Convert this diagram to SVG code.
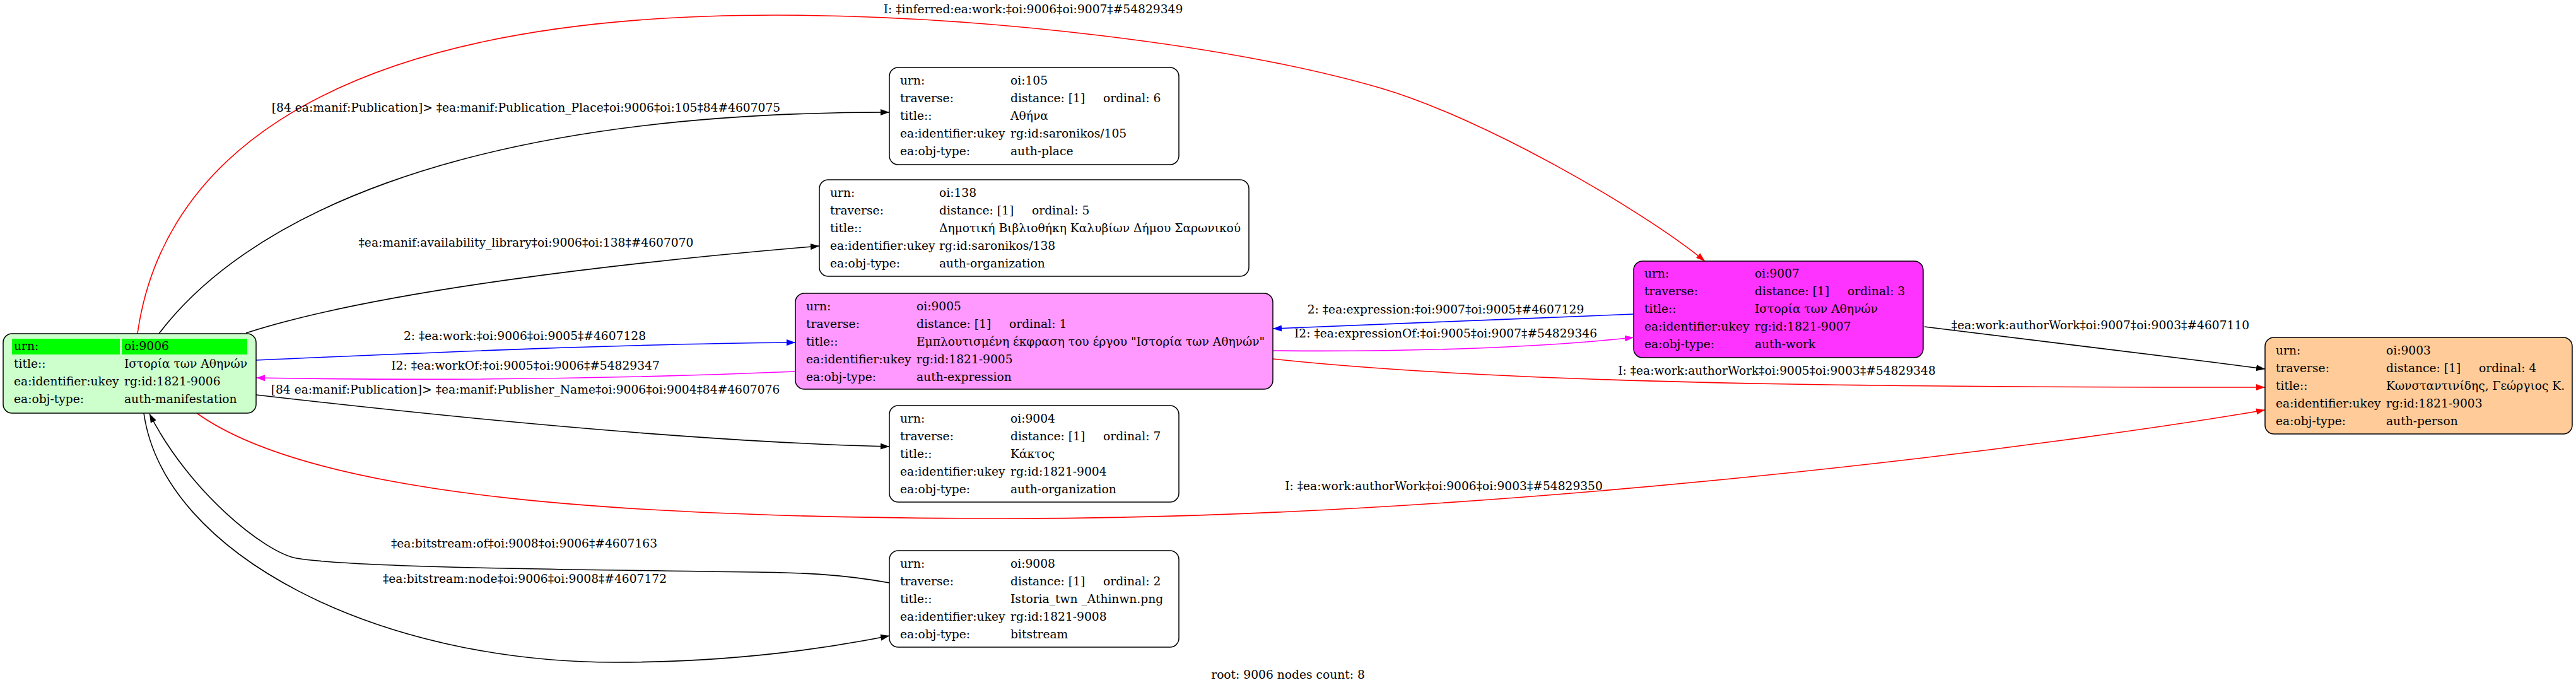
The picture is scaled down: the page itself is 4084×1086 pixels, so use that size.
<svg xmlns="http://www.w3.org/2000/svg" width="4084" height="1086" viewBox="0 0 4084 1086">
<style>
text { font-family: "DejaVu Serif", "Liberation Serif", serif; font-size: 18.67px; fill: #000; }
.lbl { text-anchor: middle; }
.box { stroke: #000; stroke-width: 1.5; }
.e { fill: none; stroke-width: 1.6; }
.k { stroke: #000; marker-end: url(#arrK); }
.r { stroke: #ff0000; marker-end: url(#arrR); }
.b { stroke: #0000ff; marker-end: url(#arrB); }
.m { stroke: #ff00ff; marker-end: url(#arrM); }
</style>
<defs>
<marker id="arrK" markerUnits="userSpaceOnUse" markerWidth="14" markerHeight="10" refX="14" refY="5" orient="auto"><path d="M0,0 L14,5 L0,10 z" fill="#000"/></marker>
<marker id="arrR" markerUnits="userSpaceOnUse" markerWidth="14" markerHeight="10" refX="14" refY="5" orient="auto"><path d="M0,0 L14,5 L0,10 z" fill="#ff0000"/></marker>
<marker id="arrB" markerUnits="userSpaceOnUse" markerWidth="14" markerHeight="10" refX="14" refY="5" orient="auto"><path d="M0,0 L14,5 L0,10 z" fill="#0000ff"/></marker>
<marker id="arrM" markerUnits="userSpaceOnUse" markerWidth="14" markerHeight="10" refX="14" refY="5" orient="auto"><path d="M0,0 L14,5 L0,10 z" fill="#ff00ff"/></marker>
</defs>
<rect width="4084" height="1086" fill="#ffffff"/>

<g id="connectors">
<path class="e r" d="M218,529 C250,300 450,24 1228,24 C1550,24 1950,70 2190,140 C2350,187 2600,330 2703,414"/>
<text class="lbl" x="1638" y="21">I: ‡inferred:ea:work:‡oi:9006‡oi:9007‡#54829349</text>

<path class="e k" d="M252,529 C380,360 700,178 1410,178"/>
<text class="lbl" x="834" y="177">[84 ea:manif:Publication]&gt; ‡ea:manif:Publication_Place‡oi:9006‡oi:105‡84#4607075</text>

<path class="e k" d="M390,528 C600,460 1000,415 1299,390"/>
<text class="lbl" x="834" y="391">‡ea:manif:availability_library‡oi:9006‡oi:138‡#4607070</text>

<path class="e b" d="M406,571 C700,558 1000,545 1261,543"/>
<text class="lbl" x="832" y="539">2: ‡ea:work:‡oi:9006‡oi:9005‡#4607128</text>

<path class="e m" d="M1261,589 C1000,600 700,604 406,599"/>
<text class="lbl" x="833" y="586">I2: ‡ea:workOf:‡oi:9005‡oi:9006‡#54829347</text>

<path class="e k" d="M406,626 C700,660 1100,700 1410,708"/>
<text class="lbl" x="833" y="624">[84 ea:manif:Publication]&gt; ‡ea:manif:Publisher_Name‡oi:9006‡oi:9004‡84#4607076</text>

<path class="e b" d="M2590,498 C2400,505 2200,515 2018,521"/>
<text class="lbl" x="2292" y="497">2: ‡ea:expression:‡oi:9007‡oi:9005‡#4607129</text>

<path class="e m" d="M2018,556 C2250,558 2450,550 2590,535"/>
<text class="lbl" x="2292" y="535">I2: ‡ea:expressionOf:‡oi:9005‡oi:9007‡#54829346</text>

<path class="e k" d="M3051,518 C3200,535 3400,560 3591,585"/>
<text class="lbl" x="3330" y="522">‡ea:work:authorWork‡oi:9007‡oi:9003‡#4607110</text>

<path class="e r" d="M2018,569 C2400,610 3000,614 3591,614"/>
<text class="lbl" x="2817" y="594">I: ‡ea:work:authorWork‡oi:9005‡oi:9003‡#54829348</text>

<path class="e r" d="M312,655 C500,790 1000,822 1600,822 C2400,822 3300,700 3591,650"/>
<text class="lbl" x="2289" y="777">I: ‡ea:work:authorWork‡oi:9006‡oi:9003‡#54829350</text>

<path class="e k" d="M1410,924 C1320,908 1250,908 1200,907 C900,903 560,900 470,885 C420,876 300,780 237,656"/>
<text class="lbl" x="831" y="868">‡ea:bitstream:of‡oi:9008‡oi:9006‡#4607163</text>

<path class="e k" d="M228,655 C260,880 600,1050 975,1050 C1150,1050 1300,1030 1410,1008"/>
<text class="lbl" x="832" y="924">‡ea:bitstream:node‡oi:9006‡oi:9008‡#4607172</text>
</g>

<g id="node-9006">
<rect class="box" x="5" y="529" width="401" height="126" rx="14" fill="#ccffcc"/>
<rect x="19" y="537" width="171" height="25" fill="#00ff00"/>
<rect x="193" y="537" width="199" height="25" fill="#00ff00"/>
<text x="22" y="555">urn:</text><text x="197" y="555">oi:9006</text>
<text x="22" y="583">title::</text><text x="197" y="583">Ιστορία των Αθηνών</text>
<text x="22" y="611">ea:identifier:ukey</text><text x="197" y="611">rg:id:1821-9006</text>
<text x="22" y="639">ea:obj-type:</text><text x="197" y="639">auth-manifestation</text>
</g>

<g id="node-105">
<rect class="box" x="1410" y="107" width="459" height="154" rx="14" fill="#ffffff"/>
<text x="1427" y="134">urn:</text><text x="1602" y="134">oi:105</text>
<text x="1427" y="162">traverse:</text><text x="1602" y="162">distance: [1]</text><text x="1749" y="162">ordinal: 6</text>
<text x="1427" y="190">title::</text><text x="1602" y="190">Αθήνα</text>
<text x="1427" y="218">ea:identifier:ukey</text><text x="1602" y="218">rg:id:saronikos/105</text>
<text x="1427" y="246">ea:obj-type:</text><text x="1602" y="246">auth-place</text>
</g>

<g id="node-138">
<rect class="box" x="1299" y="285" width="681" height="153" rx="14" fill="#ffffff"/>
<text x="1316" y="312">urn:</text><text x="1489" y="312">oi:138</text>
<text x="1316" y="340">traverse:</text><text x="1489" y="340">distance: [1]</text><text x="1636" y="340">ordinal: 5</text>
<text x="1316" y="368">title::</text><text x="1489" y="368">Δημοτική Βιβλιοθήκη Καλυβίων Δήμου Σαρωνικού</text>
<text x="1316" y="396">ea:identifier:ukey</text><text x="1489" y="396">rg:id:saronikos/138</text>
<text x="1316" y="424">ea:obj-type:</text><text x="1489" y="424">auth-organization</text>
</g>

<g id="node-9005">
<rect class="box" x="1261" y="465" width="757" height="152" rx="14" fill="#ff99ff"/>
<text x="1278" y="492">urn:</text><text x="1453" y="492">oi:9005</text>
<text x="1278" y="520">traverse:</text><text x="1453" y="520">distance: [1]</text><text x="1600" y="520">ordinal: 1</text>
<text x="1278" y="548">title::</text><text x="1453" y="548">Εμπλουτισμένη έκφραση του έργου "Ιστορία των Αθηνών"</text>
<text x="1278" y="576">ea:identifier:ukey</text><text x="1453" y="576">rg:id:1821-9005</text>
<text x="1278" y="604">ea:obj-type:</text><text x="1453" y="604">auth-expression</text>
</g>

<g id="node-9007">
<rect class="box" x="2590" y="414" width="459" height="153" rx="14" fill="#ff33ff"/>
<text x="2607" y="440">urn:</text><text x="2782" y="440">oi:9007</text>
<text x="2607" y="468">traverse:</text><text x="2782" y="468">distance: [1]</text><text x="2929" y="468">ordinal: 3</text>
<text x="2607" y="496">title::</text><text x="2782" y="496">Ιστορία των Αθηνών</text>
<text x="2607" y="524">ea:identifier:ukey</text><text x="2782" y="524">rg:id:1821-9007</text>
<text x="2607" y="552">ea:obj-type:</text><text x="2782" y="552">auth-work</text>
</g>

<g id="node-9003">
<rect class="box" x="3591" y="535" width="487" height="153" rx="14" fill="#ffcc99"/>
<text x="3608" y="562">urn:</text><text x="3783" y="562">oi:9003</text>
<text x="3608" y="590">traverse:</text><text x="3783" y="590">distance: [1]</text><text x="3930" y="590">ordinal: 4</text>
<text x="3608" y="618">title::</text><text x="3783" y="618">Κωνσταντινίδης, Γεώργιος Κ.</text>
<text x="3608" y="646">ea:identifier:ukey</text><text x="3783" y="646">rg:id:1821-9003</text>
<text x="3608" y="674">ea:obj-type:</text><text x="3783" y="674">auth-person</text>
</g>

<g id="node-9004">
<rect class="box" x="1410" y="643" width="459" height="153" rx="14" fill="#ffffff"/>
<text x="1427" y="670">urn:</text><text x="1602" y="670">oi:9004</text>
<text x="1427" y="698">traverse:</text><text x="1602" y="698">distance: [1]</text><text x="1749" y="698">ordinal: 7</text>
<text x="1427" y="726">title::</text><text x="1602" y="726">Κάκτος</text>
<text x="1427" y="754">ea:identifier:ukey</text><text x="1602" y="754">rg:id:1821-9004</text>
<text x="1427" y="782">ea:obj-type:</text><text x="1602" y="782">auth-organization</text>
</g>

<g id="node-9008">
<rect class="box" x="1410" y="873" width="459" height="153" rx="14" fill="#ffffff"/>
<text x="1427" y="900">urn:</text><text x="1602" y="900">oi:9008</text>
<text x="1427" y="928">traverse:</text><text x="1602" y="928">distance: [1]</text><text x="1749" y="928">ordinal: 2</text>
<text x="1427" y="956">title::</text><text x="1602" y="956">Istoria_twn _Athinwn.png</text>
<text x="1427" y="984">ea:identifier:ukey</text><text x="1602" y="984">rg:id:1821-9008</text>
<text x="1427" y="1012">ea:obj-type:</text><text x="1602" y="1012">bitstream</text>
</g>

<g id="graph-label">
<text class="lbl" x="2042" y="1076">root: 9006 nodes count: 8</text>
</g>
</svg>
